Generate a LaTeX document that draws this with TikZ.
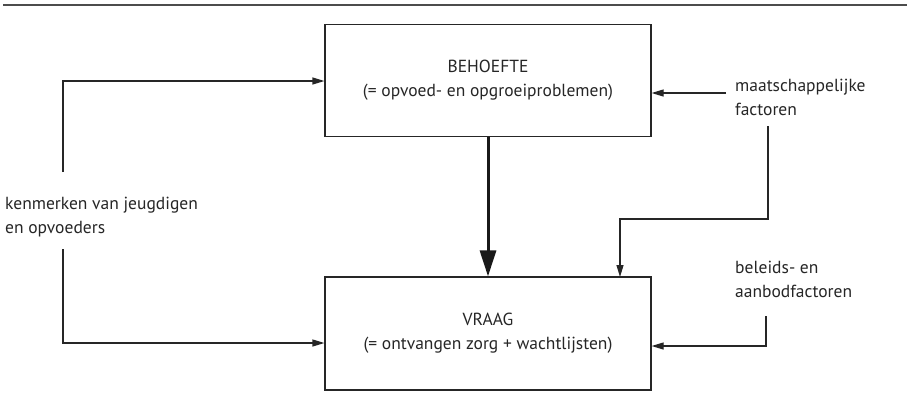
\documentclass[tikz,border=0pt]{standalone}
\usepackage{fontspec}
\setmainfont{PT Sans}
\usetikzlibrary{arrows.meta}
\begin{document}
\begin{tikzpicture}[x=1pt,y=-1pt,
  box/.style={draw=black!85,line width=1.2pt,inner sep=0pt,align=center,font=\fontsize{17.5}{24}\selectfont,text=black!85},
  lbl/.style={font=\fontsize{17.5}{24}\selectfont,align=left,inner sep=0pt,anchor=base west,text=black!85},
  conn/.style={draw=black!85,line width=1.2pt,-{Triangle[length=12pt,width=7pt]}},
  thick conn/.style={draw=black!90,line width=3pt,-{Triangle[length=26pt,width=16pt]}}]
\useasboundingbox (0,0) rectangle (907,408);
\draw[line width=2pt,black!70] (3,5) -- (907,5);
\node[box,minimum width=326pt,minimum height=112pt] (beh) at (488,80.5) {BEHOEFTE\\(= opvoed- en opgroeiproblemen)};
\node[box,minimum width=326pt,minimum height=113pt] (vra) at (488,333.5) {VRAAG\\(= ontvangen zorg + wachtlijsten)};
\node[lbl] (ken) at (5,233) {kenmerken van jeugdigen\\en opvoeders};
\node[lbl] (maa) at (735,115) {maatschappelijke\\factoren};
\node[lbl] (bel) at (735,297) {beleids- en\\aanbodfactoren};
\coordinate (k1) at (63,172);
\coordinate (k2) at (63,249);
\coordinate (m1) at (726,93);
\coordinate (m2) at (768,126);
\coordinate (b1) at (766,316);
\draw[thick conn] (beh.south) -- (vra.north);
\draw[conn] (k1) -- (63,81) -- (beh.west |- 0,81);
\draw[conn] (k2) -- (63,343) -- (vra.west |- 0,343);
\draw[conn] (m1) -- (beh.east |- 0,93);
\draw[conn] (m2) -- (768,219) -- (620,219) -- (620,277);
\draw[conn] (b1) -- (766,346) -- (vra.east |- 0,346);
\end{tikzpicture}
\end{document}
